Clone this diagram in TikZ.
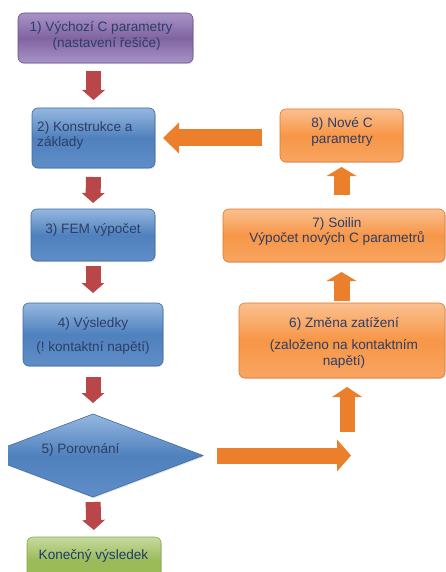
\documentclass[tikz,border=0pt]{standalone}
\usepackage{fontspec}
\setmainfont{Liberation Sans}
\usetikzlibrary{arrows.meta,shapes.geometric,shadows,calc}
\definecolor{txt}{HTML}{2E3D66}
\definecolor{txtg}{HTML}{1F3A6B}
\definecolor{purpleA}{HTML}{A893C6}
\definecolor{purpleB}{HTML}{8064A2}
\definecolor{purpleD}{HTML}{6A4F8C}
\definecolor{blueA}{HTML}{95B7E0}
\definecolor{blueB}{HTML}{4F81BD}
\definecolor{blueC}{HTML}{5F8DC7}
\definecolor{blueD}{HTML}{3D6BA3}
\definecolor{orA}{HTML}{FAC090}
\definecolor{orB}{HTML}{F79646}
\definecolor{orC}{HTML}{F8A562}
\definecolor{orD}{HTML}{E0772A}
\definecolor{grA}{HTML}{C6DAA0}
\definecolor{grB}{HTML}{9BBB59}
\definecolor{grD}{HTML}{86A64A}
\definecolor{redArr}{HTML}{B9474A}
\definecolor{orArr}{HTML}{EC7F2C}
\frenchspacing
\begin{document}
\begin{tikzpicture}[x=1pt,y=-1pt,
  flowbox/.style={rectangle, rounded corners=6pt, inner sep=0pt, outer sep=0pt, line width=0.6pt,
     drop shadow={opacity=0.25, shadow xshift=0.8pt, shadow yshift=-1.2pt}},
  purplebox/.style={flowbox, draw=purpleD, top color=purpleA, bottom color=purpleA, middle color=purpleB},
  bluebox/.style={flowbox, draw=blueD, top color=blueA, bottom color=blueC, middle color=blueB},
  orbox/.style={flowbox, draw=orD, top color=orA, bottom color=orC, middle color=orB},
  grbox/.style={flowbox, draw=grD, top color=grA, bottom color=grB, middle color=grB},
  lbl/.style={text=txt, font=\fontsize{13.6}{15.5}\selectfont, inner sep=0pt},
  redarr/.style={draw=redArr, line width=15pt, -{Triangle[width=23pt,length=10pt,line width=0pt]}},
  orarr/.style={draw=orArr, line width=#1}, orarr/.default=16pt
]
\path[use as bounding box, clip] (0,0) rectangle (446,572);

% left column boxes
\node[purplebox, minimum width=175pt, minimum height=50pt] (b1) at (105.5,38) {};
\node[lbl, align=left] (t1) at (101,36) {1) Výchozí C parametry\\\hspace*{23pt}(nastavení řešiče)};

\node[bluebox, minimum width=123pt, minimum height=60pt] (b2) at (93.5,138) {};
\node[lbl, align=left, anchor=west] (t2) at (37,135.5) {2) Konstrukce a\\základy};

\node[bluebox, minimum width=124pt, minimum height=52pt] (b3) at (93,235) {};
\node[lbl] (t3) at (93,230) {3) FEM výpočet};

\node[bluebox, minimum width=140pt, minimum height=63pt] (b4) at (93,334.5) {};
\node[lbl, align=center] (t4) at (93,335.5) {4) Výsledky\\[8.5pt](!\ kontaktní napětí)};

\begin{scope}
\clip (8,400) rectangle (260,510);
\node[diamond, inner sep=0pt, outer sep=0pt, minimum width=220pt, minimum height=83pt,
      draw=blueD, line width=0.6pt, top color=blueA, bottom color=blueC, middle color=blueB,
      drop shadow={opacity=0.25, shadow xshift=0.8pt, shadow yshift=-1.2pt}] (d5) at (93,455.5) {};
\end{scope}
\node[lbl] (t5) at (80.5,450) {5) Porovnání};

\node[grbox, minimum width=134pt, minimum height=46pt] (fin) at (94,560) {};
\node[lbl, text=txtg] (tf) at (93.5,556) {Konečný výsledek};

% right column boxes
\node[orbox, minimum width=123pt, minimum height=53pt] (b8) at (341.5,135.5) {};
\node[lbl, align=center, font=\fontsize{13.6}{16}\selectfont] (t8) at (342,132) {8) Nové C\\parametry};

\node[orbox, minimum width=222pt, minimum height=53pt] (b7) at (334,235.5) {};
\node[lbl, align=center] (t7) at (337,231.5) {7) Soilin\\Výpočet nových C parametrů};

\node[orbox, minimum width=206pt, minimum height=75pt] (b6) at (342,340.5) {};
\node[lbl, align=center, font=\fontsize{13.6}{16}\selectfont] (t6) at (344,343) {6) Změna zatížení\\[6pt](založeno na kontaktním\\napětí)};

\coordinate (c6) at (347,432);
\coordinate (c5) at (351,455.5);

% red connectors
\draw[redarr, shorten <=8pt, shorten >=8pt] (b1.south -| b2.north) -- (b2.north);
\draw[redarr, shorten <=9pt, shorten >=6pt] (b2.south) -- (b3.north);
\draw[redarr, shorten <=5pt, shorten >=10pt] (b3.south) -- (b4.north);
\draw[redarr, shorten <=11pt, shorten >=11pt] (b4.south) -- (d5.north);
\draw[redarr, shorten <=5pt, shorten >=7pt] (d5.south) -- (fin.north);

% orange connectors
\draw[orarr=17pt, -{Triangle[width=31pt,length=16pt,line width=0pt]}, shorten <=18pt, shorten >=8pt]
  (b8.west |- b2.east) -- (b2.east);
\draw[orarr=16pt, -{Triangle[width=30pt,length=9pt,line width=0pt]}, shorten <=14pt, shorten >=5pt]
  (b7.north -| b8.south) -- (b8.south);
\draw[orarr=16pt, -{Triangle[width=30pt,length=9pt,line width=0pt]}, shorten <=2.5pt, shorten >=10pt]
  (b6.north -| b8.south) -- (b7.south -| b8.south);
\draw[orarr=15pt, -{Triangle[width=30pt,length=10pt,line width=0pt]}, shorten >=9pt]
  (c6) -- (b6.south -| c6);
\draw[orarr=16pt, -{Triangle[width=32pt,length=14pt,line width=0pt]}, shorten <=14pt]
  (d5.east) -- (c5);
\end{tikzpicture}
\end{document}
